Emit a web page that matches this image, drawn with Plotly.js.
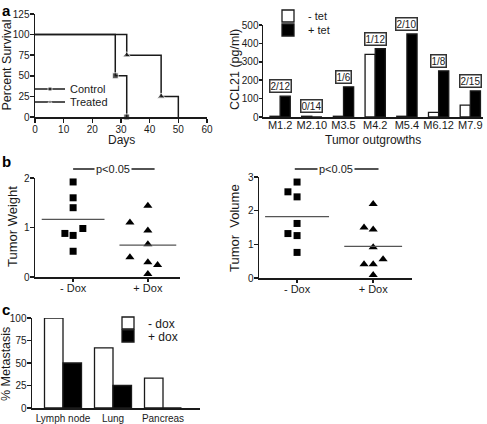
<!DOCTYPE html>
<html>
<head>
<meta charset="utf-8">
<script src="https://cdn.plot.ly/plotly-3.0.1.min.js"></script>
<style>html,body{margin:0;padding:0;background:#fff;}#chart{width:487px;height:424px;}</style>
</head>
<body>
<div id="chart"></div>
<script>
// ---- Panel a (left): survival ----
var controlDays = [0, 28, 32];
var controlSurvival = [100, 50, 0];
var treatedDays = [0, 32, 44, 50];
var treatedSurvival = [100, 75, 25, 0];

// ---- Panel a (right): CCL21 ----
var outgrowths = ['M1.2', 'M2.10', 'M3.5', 'M4.2', 'M5.4', 'M6.12', 'M7.9'];
var ccl21MinusTet = [4, 4, 4, 340, 4, 25, 65];
var ccl21PlusTet = [113, 0, 164, 371, 451, 251, 142];
var fractionLabels = ['2/12', '0/14', '1/6', '1/12', '2/10', '1/8', '2/15'];

// ---- Panel b: tumor weight / volume ----
var doxGroups = ['- Dox', '+ Dox'];
var weightMinusDox = [1.92, 1.6, 1.4, 0.98, 0.88, 0.84, 0.52];
var weightPlusDox = [1.44, 1.1, 0.94, 0.66, 0.4, 0.3, 0.24, 0.06];
var volumeMinusDox = [2.85, 2.56, 2.41, 1.62, 1.32, 1.26, 0.76];
var volumePlusDox = [2.2, 1.5, 1.44, 0.91, 0.41, 0.41, 0.56, 0.09];

// horizontal spread of the points around each group (scatter-dot layout)
var weightMinusJitter = [0, 0, 0, 0.13, -0.11, 0, 0];
var weightPlusJitter = [0, -0.24, 0, 0, -0.24, 0, 0.13, 0];
var volumeMinusJitter = [0, -0.12, 0, 0, -0.12, 0, 0];
var volumePlusJitter = [0, -0.12, 0, 0, -0.12, 0, 0.13, 0];

// ---- Panel c: metastasis ----
var sites = ['Lymph node', 'Lung', 'Pancreas'];
var metMinusDox = [100, 66.7, 33.3];
var metPlusDox = [50, 25, 0];

var FONT = 'Liberation Sans, Arial, Helvetica, sans-serif';
var INK = '#1a1a1a';

function mean(a) { return a.reduce(function (s, v) { return s + v; }, 0) / a.length; }
function place(vals, g, jit) { return vals.map(function (v, i) { return g + jit[i]; }); }

var traces = [];

// survival curves
traces.push({
  type: 'scatter', mode: 'lines+markers', name: 'Control',
  x: controlDays, y: controlSurvival, xaxis: 'x', yaxis: 'y',
  line: {shape: 'hv', color: INK, width: 1.5},
  marker: {symbol: 'square', size: [0, 6, 6], color: INK},
  cliponaxis: false, legend: 'legend'
});
traces.push({
  type: 'scatter', mode: 'lines+markers', name: 'Treated',
  x: treatedDays, y: treatedSurvival, xaxis: 'x', yaxis: 'y',
  line: {shape: 'hv', color: INK, width: 1.5},
  marker: {symbol: 'triangle-up', size: [0, 7, 7, 0], color: INK},
  cliponaxis: false, legend: 'legend2'
});

// CCL21 bars
traces.push({
  type: 'bar', name: '- tet', x: outgrowths, y: ccl21MinusTet, xaxis: 'x2', yaxis: 'y2',
  width: 0.32, offset: -0.32,
  marker: {color: '#ffffff', line: {color: INK, width: 1.3}}, legend: 'legend3'
});
traces.push({
  type: 'bar', name: '+ tet', x: outgrowths, y: ccl21PlusTet, xaxis: 'x2', yaxis: 'y2',
  width: 0.32, offset: 0,
  marker: {color: '#000000', line: {color: INK, width: 1.3}}, legend: 'legend4'
});

// dot plots
function dotPanel(minus, plus, jm, jp, xa, ya) {
  traces.push({
    type: 'scatter', mode: 'markers', x: place(minus, 0, jm), y: minus, xaxis: xa, yaxis: ya,
    marker: {symbol: 'square', size: 7, color: '#000'}, showlegend: false, cliponaxis: false
  });
  traces.push({
    type: 'scatter', mode: 'markers', x: place(plus, 1, jp), y: plus, xaxis: xa, yaxis: ya,
    marker: {symbol: 'triangle-up', size: 8, color: '#000'}, showlegend: false, cliponaxis: false
  });
  var mm = mean(minus), mp = mean(plus);
  traces.push({
    type: 'scatter', mode: 'lines', x: [-0.42, 0.42], y: [mm, mm], xaxis: xa, yaxis: ya,
    line: {color: '#555', width: 1.3}, showlegend: false, hoverinfo: 'skip', cliponaxis: false
  });
  traces.push({
    type: 'scatter', mode: 'lines', x: [1 - 0.38, 1 + 0.38], y: [mp, mp], xaxis: xa, yaxis: ya,
    line: {color: '#555', width: 1.3}, showlegend: false, hoverinfo: 'skip', cliponaxis: false
  });
}
dotPanel(weightMinusDox, weightPlusDox, weightMinusJitter, weightPlusJitter, 'x3', 'y3');
dotPanel(volumeMinusDox, volumePlusDox, volumeMinusJitter, volumePlusJitter, 'x4', 'y4');

// metastasis bars
traces.push({
  type: 'bar', name: '- dox', x: sites, y: metMinusDox, xaxis: 'x5', yaxis: 'y5',
  width: 0.37, offset: -0.37,
  marker: {color: '#ffffff', line: {color: INK, width: 1.3}}, legend: 'legend5'
});
traces.push({
  type: 'bar', name: '+ dox', x: sites, y: metPlusDox, xaxis: 'x5', yaxis: 'y5',
  width: 0.37, offset: 0,
  marker: {color: '#000000', line: {color: INK, width: 1.3}}, legend: 'legend6'
});

function ax(extra) {
  var base = {
    showline: true, linecolor: INK, linewidth: 1.5, ticks: 'outside', ticklen: 4,
    tickwidth: 1.5, tickcolor: INK, showgrid: false, zeroline: false,
    tickfont: {size: 10, family: FONT, color: INK}, fixedrange: true, automargin: false
  };
  for (var k in extra) base[k] = extra[k];
  return base;
}
function yax(extra) { extra.ticklabelstandoff = -2; return ax(extra); }
function px(x) { return x / 487; }
function py(y) { return 1 - y / 424; }
function leg(x, y, size) {
  return {x: px(x), xanchor: 'left', y: py(y), yanchor: 'middle', bgcolor: 'rgba(0,0,0,0)',
          borderwidth: 0, font: {size: size, family: FONT, color: INK}};
}

var layout = {
  width: 487, height: 424, margin: {l: 0, r: 0, t: 0, b: 0},
  paper_bgcolor: '#fff', plot_bgcolor: '#fff',
  font: {family: FONT, size: 11, color: INK},
  showlegend: true, barmode: 'overlay',
  xaxis: ax({domain: [px(35), px(207)], range: [0, 60], dtick: 10, anchor: 'y',
             ticklabelstandoff: -2}),
  yaxis: yax({domain: [py(117), py(14)], range: [0, 125], dtick: 25, anchor: 'x'}),
  xaxis2: ax({domain: [px(263), px(483)], range: [-0.54, 6.4], anchor: 'y2', ticks: '',
              tickangle: 0, ticklabelstandoff: -3, tickfont: {size: 11, family: FONT, color: INK}}),
  yaxis2: yax({domain: [py(117), py(25)], range: [0, 500], dtick: 100, anchor: 'x2', ticklen: 3}),
  xaxis3: ax({domain: [px(35), px(180)], range: [-0.51, 1.43], anchor: 'y3', ticklen: 3,
              ticklabelstandoff: -3,
              tickvals: [0, 1], ticktext: doxGroups, tickfont: {size: 11, family: FONT, color: INK}}),
  yaxis3: yax({domain: [py(277), py(178)], range: [0, 2], dtick: 1, anchor: 'x3'}),
  xaxis4: ax({domain: [px(259), px(412)], range: [-0.5, 1.51], anchor: 'y4', ticklen: 3,
              ticklabelstandoff: -3,
              tickvals: [0, 1], ticktext: doxGroups, tickfont: {size: 11, family: FONT, color: INK}}),
  yaxis4: yax({domain: [py(278), py(177)], range: [0, 3], dtick: 1, anchor: 'x4'}),
  xaxis5: ax({domain: [px(32), px(200)], range: [-0.62, 2.74], anchor: 'y5', ticks: '',
              tickangle: 0}),
  yaxis5: yax({domain: [py(408), py(318)], range: [0, 100], dtick: 25, anchor: 'x5'}),
  legend: leg(30, 89, 11),
  legend2: leg(30, 102, 11),
  legend3: leg(268, 16, 11),
  legend4: leg(268, 30, 11),
  legend5: leg(108, 323, 12),
  legend6: leg(108, 336, 12),
  annotations: [],
  shapes: []
};

// axis titles
function title(text, x, y, size, angle) {
  layout.annotations.push({xref: 'paper', yref: 'paper', x: px(x), y: py(y), text: text,
                           showarrow: false, textangle: angle, xanchor: 'center', yanchor: 'middle',
                           font: {size: size, family: FONT, color: INK}});
}
title('Percent Survival', 6.5, 65, 12.5, -90);
title('Days', 121, 140, 12, 0);
title('CCL21 (pg/ml)', 235, 70, 12.5, -90);
title('Tumor outgrowths', 373, 140, 12, 0);
title('Tumor Weight', 13, 227, 13, -90);
title('Tumor  Volume', 234, 228, 13, -90);
title('% Metastasis', 6, 364, 12.5, -90);

// boxed fraction labels above each outgrowth
outgrowths.forEach(function (c, i) {
  layout.annotations.push({
    xref: 'x2', yref: 'y2', x: c, y: Math.max(ccl21MinusTet[i], ccl21PlusTet[i]),
    yanchor: 'bottom', yshift: 3, text: fractionLabels[i], showarrow: false,
    font: {size: 10, family: FONT, color: INK}, bgcolor: '#fff',
    bordercolor: '#333', borderwidth: 1.5, borderpad: 0
  });
});

// significance markers
[['x3', -0.0, 1.09, 0.53], ['x4', -0.03, 1.07, 0.51]].forEach(function (s) {
  layout.shapes.push({type: 'line', xref: s[0], yref: 'paper', x0: s[1], x1: s[2],
                      y0: py(169), y1: py(169), line: {color: INK, width: 1.3}});
  layout.annotations.push({xref: s[0], yref: 'paper', x: s[3], y: py(169), text: 'p<0.05',
                           showarrow: false, bgcolor: '#fff', borderpad: 1,
                           font: {size: 11, family: FONT, color: INK}});
});

// panel letters
[['a', 0], ['b', 151], ['c', 299]].forEach(function (p) {
  layout.annotations.push({xref: 'paper', yref: 'paper', x: 0, y: py(p[1]), xanchor: 'left',
                           yanchor: 'top', text: '<b>' + p[0] + '</b>', showarrow: false,
                           font: {size: 15, family: FONT, color: '#000'}});
});

Plotly.newPlot('chart', traces, layout, {staticPlot: true, displayModeBar: false});
</script>
</body>
</html>
